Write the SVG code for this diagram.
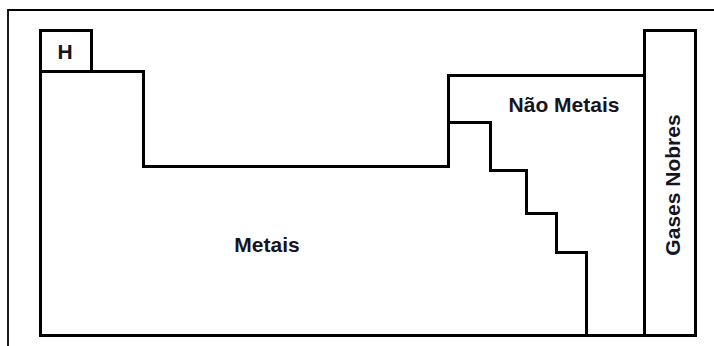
<svg xmlns="http://www.w3.org/2000/svg" width="714" height="346" viewBox="0 0 714 346">
<style>
.ln{fill:none;stroke:#000;stroke-width:3;stroke-linejoin:miter;stroke-linecap:square}
.frame{fill:none;stroke:#000;stroke-width:1.8}
.lbl{font-family:"Liberation Sans",Arial,sans-serif;font-weight:bold;font-size:21px;fill:#15151f}
</style>
<rect x="0" y="0" width="714" height="346" fill="#fff"/>
<path class="frame" d="M8,346 V10 H714"/>
<g id="hidrogenio">
<rect class="ln" x="40.5" y="30.5" width="51" height="41"/>
<text class="lbl" x="65" y="59" text-anchor="middle">H</text>
</g>
<g id="metais">
<path class="ln" d="M40.5,71.5 H143.5 V166.5 H448.5 V75.5 H644.5 M40.5,71.5 V335.5 H644.5"/>
<text class="lbl" x="267" y="252" text-anchor="middle">Metais</text>
</g>
<g id="nao-metais">
<path class="ln" d="M448.5,122.5 H490.5 V170.5 H526.5 V213.5 H556.5 V252.5 H586.5 V335.5"/>
<text class="lbl" x="564" y="112" text-anchor="middle">Não Metais</text>
</g>
<g id="gases-nobres">
<rect class="ln" x="644.5" y="30.5" width="51" height="305"/>
<text class="lbl" transform="translate(680,185) rotate(-90)" x="0" y="0" text-anchor="middle">Gases Nobres</text>
</g>
<g id="connectors"/>
</svg>
